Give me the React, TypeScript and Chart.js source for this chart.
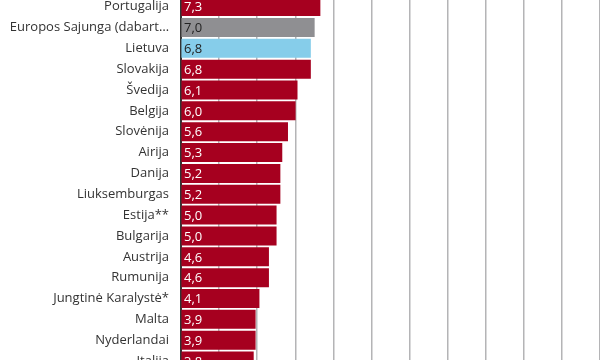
import React, { useEffect, useRef } from "react";
import { Chart, registerables } from "chart.js";

Chart.register(...registerables);

const categories = [
  "Portugalija",
  "Europos Sajunga (dabart…",
  "Lietuva",
  "Slovakija",
  "Švedija",
  "Belgija",
  "Slovėnija",
  "Airija",
  "Danija",
  "Liuksemburgas",
  "Estija**",
  "Bulgarija",
  "Austrija",
  "Rumunija",
  "Jungtinė Karalystė*",
  "Malta",
  "Nyderlandai",
  "Italija",
];
const values = [7.3, 7.0, 6.8, 6.8, 6.1, 6.0, 5.6, 5.3, 5.2, 5.2, 5.0, 5.0, 4.6, 4.6, 4.1, 3.9, 3.9, 3.8];
const highlightEU = "Europos Sajunga (dabart…";
const highlightLT = "Lietuva";

const RED = "#A6001F";
const GREY = "#8F8F92";
const BLUE = "#86CDEA";

const valueLabels = {
  id: "valueLabels",
  afterDatasetsDraw(chart: any) {
    const ctx = chart.ctx;
    const meta = chart.getDatasetMeta(0);
    const xs = chart.scales.x;
    ctx.save();
    ctx.beginPath();
    ctx.rect(chart.chartArea.left, chart.chartArea.top, chart.chartArea.right - chart.chartArea.left, chart.chartArea.bottom - chart.chartArea.top);
    ctx.clip();
    ctx.font = "13px 'Open Sans'";
    ctx.textBaseline = "middle";
    ctx.textAlign = "left";
    meta.data.forEach((bar: any, i: number) => {
      const c = categories[i];
      ctx.fillStyle = c === highlightEU || c === highlightLT ? "#222" : "#fff";
      ctx.fillText(values[i].toFixed(1).replace(".", ","), xs.getPixelForValue(0) + 3, bar.y + 1);
    });
    ctx.restore();
  },
};

export default function App() {
  const ref = useRef<HTMLCanvasElement>(null);
  useEffect(() => {
    if (!ref.current) return;
    const chart = new Chart(ref.current, {
      type: "bar",
      data: {
        datasets: [
          {
            data: values.map((v, i) => ({ x: v, y: i })) as any,
            backgroundColor: categories.map((c) => (c === highlightEU ? GREY : c === highlightLT ? BLUE : RED)),
            barThickness: 18.3,
            borderWidth: 0,
          },
        ],
      },
      options: {
        indexAxis: "y",
        animation: false,
        responsive: false,
        maintainAspectRatio: false,
        layout: { padding: 0 },
        plugins: { legend: { display: false }, tooltip: { enabled: false } },
        scales: {
          x: {
            type: "linear",
            min: 0,
            max: 22,
            offset: false,
            ticks: { display: false, stepSize: 2 },
            grid: { color: "#B4B4B6", lineWidth: 1.5, drawTicks: false },
            border: { display: false },
            afterFit: (s: any) => {
              s.height = 0;
              s.paddingLeft = 0;
              s.paddingRight = 0;
            },
          },
          y: {
            type: "linear",
            reverse: true,
            offset: false,
            min: -0.317,
            max: 16.95,
            afterBuildTicks: (s: any) => {
              s.ticks = categories.map((_, i) => ({ value: i }));
            },
            ticks: {
              autoSkip: false,
              padding: 12,
              color: "#333",
              font: { family: "'Open Sans'", size: 13 },
              callback: (v: any) => categories[v as number] ?? "",
            },
            grid: { display: false, drawTicks: false, offset: false },
            border: { display: true, color: "#333", width: 2 },
            afterFit: (s: any) => {
              s.width = 181;
              s.paddingTop = 0;
              s.paddingBottom = 0;
            },
          },
        },
      },
      plugins: [valueLabels],
    });
    return () => chart.destroy();
  }, []);
  return (
    <div style={{ position: "fixed", left: 0, top: 0, width: 600, height: 360, overflow: "hidden", background: "#fff" }}>
      <canvas ref={ref} width={600} height={360} style={{ display: "block" }} />
    </div>
  );
}
